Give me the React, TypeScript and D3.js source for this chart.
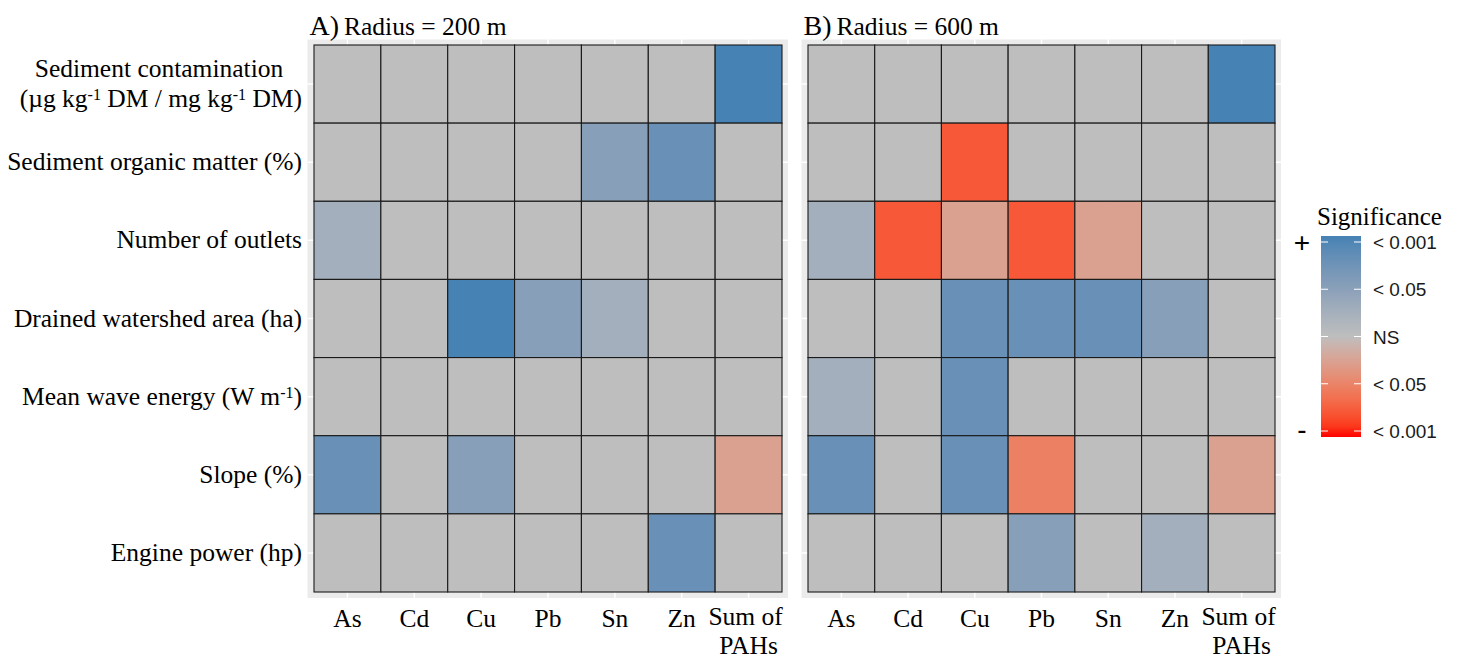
import React from "react";
import * as d3 from "d3";

const metals = ["As", "Cd", "Cu", "Pb", "Sn", "Zn", "Sum of PAHs"];
const rowKeys = ["sed", "som", "outlets", "watershed", "wave", "slope", "engine"];

// signed significance: + positive, - negative; magnitude 1 = p<0.001, 0 = NS
const panelA = [
  [0, 0, 0, 0, 0, 0, 1],
  [0, 0, 0, 0, 0.5, 0.75, 0],
  [0.25, 0, 0, 0, 0, 0, 0],
  [0, 0, 1, 0.5, 0.25, 0, 0],
  [0, 0, 0, 0, 0, 0, 0],
  [0.75, 0, 0.5, 0, 0, 0, -0.25],
  [0, 0, 0, 0, 0, 0.75, 0],
];
const panelB = [
  [0, 0, 0, 0, 0, 0, 1],
  [0, 0, -0.75, 0, 0, 0, 0],
  [0.25, -0.75, -0.25, -0.75, -0.25, 0, 0],
  [0, 0, 0.75, 0.75, 0.75, 0.5, 0],
  [0.25, 0, 0.75, 0, 0, 0, 0],
  [0.75, 0, 0.75, -0.5, 0, 0, -0.25],
  [0, 0, 0, 0.5, 0, 0.25, 0],
];
const legendBreaks = [1, 0.5, 0, -0.5, -1];
const legendLabels = ["< 0.001", "< 0.05", "NS", "< 0.05", "< 0.001"];

const color = d3
  .scaleLinear<string>()
  .domain([-1, 0, 1])
  .range(["#FF0000", "#BEBEBE", "#4682B4"])
  .interpolate(d3.interpolateLab);

const SERIF = "'Liberation Serif', 'Times New Roman', serif";
const SANS = "'Liberation Sans', Arial, sans-serif";
const FS = 25.5;

function Sup({ children }: { children: React.ReactNode }) {
  return (
    <tspan fontSize={16} baselineShift="7">
      {children}
    </tspan>
  );
}

function RowLabel({ k, x, y }: { k: string; x: number; y: number }) {
  const common = { fontFamily: SERIF, fontSize: FS, fill: "#000" } as any;
  if (k === "sed") {
    return (
      <g>
        <text {...common} x={159} y={y - 7} textAnchor="middle">
          Sediment contamination
        </text>
        <text {...common} x={x} y={y + 23} textAnchor="end">
          (µg kg<Sup>-1</Sup> DM / mg kg<Sup>-1</Sup> DM)
        </text>
      </g>
    );
  }
  const map: Record<string, React.ReactNode> = {
    som: "Sediment organic matter (%)",
    outlets: "Number of outlets",
    watershed: "Drained watershed area (ha)",
    wave: (
      <>
        Mean wave energy (W m<Sup>-1</Sup>)
      </>
    ),
    slope: "Slope (%)",
    engine: "Engine power (hp)",
  };
  return (
    <text {...common} x={x} y={y + 8} textAnchor="end">
      {map[k]}
    </text>
  );
}

function Panel({
  data,
  left,
  right,
  letter,
  title,
}: {
  data: number[][];
  left: number;
  right: number;
  letter: string;
  title: string;
}) {
  const top = 45;
  const bottom = 592;
  const x = d3.scaleBand<string>().domain(metals).range([left, right]).padding(0);
  const y = d3.scaleBand<string>().domain(rowKeys).range([top, bottom]).padding(0);
  const bg = { x0: left - 6.5, x1: right + 6, y0: top - 5.5, y1: bottom + 6 };
  return (
    <g>
      <rect x={bg.x0} y={bg.y0} width={bg.x1 - bg.x0} height={bg.y1 - bg.y0} fill="#EBEBEB" />
      {metals.map((m) => (
        <line
          key={m}
          x1={x(m)! + x.bandwidth() / 2}
          x2={x(m)! + x.bandwidth() / 2}
          y1={bg.y0}
          y2={bg.y1}
          stroke="#fff"
          strokeWidth={1.5}
        />
      ))}
      {rowKeys.map((r) => (
        <line
          key={r}
          y1={y(r)! + y.bandwidth() / 2}
          y2={y(r)! + y.bandwidth() / 2}
          x1={bg.x0}
          x2={bg.x1}
          stroke="#fff"
          strokeWidth={1.5}
        />
      ))}
      {rowKeys.map((r, i) =>
        metals.map((m, j) => (
          <rect
            key={r + m}
            x={x(m)!}
            y={y(r)!}
            width={x.bandwidth()}
            height={y.bandwidth()}
            fill={color(data[i][j])}
            stroke="#1a1a1a"
            strokeWidth={1.1}
          />
        ))
      )}
      {metals.map((m) => {
        const cx = x(m)! + x.bandwidth() / 2;
        if (m === "Sum of PAHs") {
          return (
            <g key={m}>
              <text x={cx - 3} y={625} fontFamily={SERIF} fontSize={FS} textAnchor="middle" fill="#000">
                Sum of
              </text>
              <text x={cx} y={653.5} fontFamily={SERIF} fontSize={FS} textAnchor="middle" fill="#000">
                PAHs
              </text>
            </g>
          );
        }
        return (
          <text key={m} x={cx} y={627} fontFamily={SERIF} fontSize={FS} textAnchor="middle" fill="#000">
            {m}
          </text>
        );
      })}
      <text x={bg.x0 + 2} y={35} fontFamily={SERIF} fill="#000">
        <tspan fontSize={28}>{letter}</tspan>
        <tspan fontSize={FS} dx={5}>
          {title}
        </tspan>
      </text>
    </g>
  );
}

function Legend() {
  const x0 = 1321;
  const w = 40;
  const y0 = 236;
  const y1 = 437;
  const ly = d3.scaleLinear().domain([1, -1]).range([y0 + 6, y1 - 6]);
  const stops = d3.range(0, 1.0001, 0.05);
  return (
    <g>
      <defs>
        <linearGradient id="sigGrad" x1="0" y1="0" x2="0" y2="1">
          {stops.map((t) => (
            <stop key={t} offset={`${t * 100}%`} stopColor={color(1 - 2 * t)} />
          ))}
        </linearGradient>
      </defs>
      <text x={1317} y={225} fontFamily={SERIF} fontSize={25} fill="#000">
        Significance
      </text>
      <rect x={x0} y={y0} width={w} height={y1 - y0} fill="url(#sigGrad)" />
      {legendBreaks.map((b, i) => (
        <g key={i}>
          <line x1={x0} x2={x0 + 7} y1={ly(b)} y2={ly(b)} stroke="#fff" strokeWidth={1} />
          <line x1={x0 + w - 7} x2={x0 + w} y1={ly(b)} y2={ly(b)} stroke="#fff" strokeWidth={1} />
          <text x={1373} y={ly(b) + 7} fontFamily={SANS} fontSize={19} fill="#1a1a1a">
            {legendLabels[i]}
          </text>
        </g>
      ))}
      <text x={1302} y={ly(1) + 10} fontFamily={SANS} fontSize={28} textAnchor="middle" fill="#000">
        +
      </text>
      <text x={1302} y={ly(-1) + 8} fontFamily={SANS} fontSize={28} textAnchor="middle" fill="#000">
        -
      </text>
    </g>
  );
}

export default function App() {
  const labelX = 302;
  const y = d3.scaleBand<string>().domain(rowKeys).range([45, 592]).padding(0);
  return (
    <svg
      width={1461}
      height={659}
      style={{ position: "absolute", left: 0, top: 0, background: "#fff" }}
    >
      <rect x={0} y={0} width={1461} height={659} fill="#fff" />
      {rowKeys.map((k) => (
        <RowLabel key={k} k={k} x={labelX} y={y(k)! + y.bandwidth() / 2} />
      ))}
      <Panel data={panelA} left={314} right={782} letter="A)" title="Radius = 200 m" />
      <Panel data={panelB} left={808} right={1275} letter="B)" title="Radius = 600 m" />
      <Legend />
    </svg>
  );
}
